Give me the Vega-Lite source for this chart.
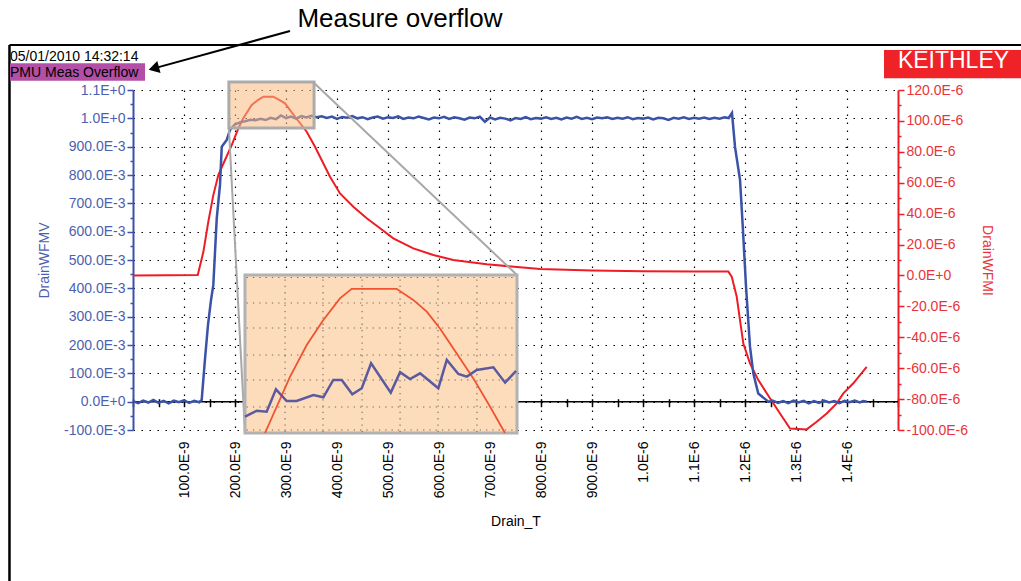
{
  "$schema": "https://vega.github.io/schema/vega-lite/v6.json",
  "width": 765,
  "height": 340,
  "autosize": {"type": "none"},
  "padding": {"left": 133, "top": 90, "right": 123, "bottom": 151},
  "config": {"font": "Liberation Sans", "view": {"stroke": null}},
  "datasets": {
    "voltage": [
      {"t":0,"v":0.002},{"t":10,"v":-0.005},{"t":20,"v":0.004},{"t":30,"v":-0.003},{"t":40,"v":0.006},{"t":50,"v":-0.004},{"t":60,"v":0.003},{"t":70,"v":-0.006},{"t":80,"v":0.004},{"t":90,"v":-0.002},{"t":100,"v":0.005},{"t":110,"v":-0.004},{"t":120,"v":0.003},{"t":130,"v":-0.002},
      {"t":134.7,"v":0.006},{"t":141,"v":0.147},{"t":147,"v":0.27},{"t":153,"v":0.359},{"t":157.5,"v":0.412},{"t":164.2,"v":0.647},{"t":170.6,"v":0.765},{"t":174,"v":0.9},{"t":183.8,"v":0.924},{"t":190.2,"v":0.959},{"t":200,"v":0.979},{"t":213.2,"v":0.988},
      {"t":220,"v":0.99},{"t":230,"v":0.995},{"t":240,"v":0.993},{"t":250,"v":0.998},{"t":260,"v":0.994},{"t":270,"v":1.002},{"t":280,"v":0.997},{"t":290,"v":1.01},{"t":300,"v":1.001},{"t":310,"v":1.006},{"t":320,"v":0.999},{"t":330,"v":1.008},{"t":340,"v":1.003},{"t":350,"v":1.009},{"t":360,"v":1.004},{"t":370,"v":1.007},{"t":380,"v":1.001},{"t":390,"v":1.006},{"t":400,"v":0.998},{"t":410,"v":1.005},{"t":420,"v":1.002},{"t":430,"v":1.008},{"t":440,"v":1.0},{"t":450,"v":1.004},{"t":460,"v":0.997},{"t":470,"v":1.003},{"t":480,"v":1.006},{"t":490,"v":0.999},{"t":500,"v":1.004},{"t":510,"v":1.001},{"t":520,"v":1.007},{"t":530,"v":0.998},{"t":540,"v":1.003},{"t":550,"v":1.0},{"t":560,"v":1.006},{"t":570,"v":1.001},{"t":580,"v":0.996},{"t":590,"v":1.003},{"t":600,"v":1.0},{"t":610,"v":1.005},{"t":620,"v":0.998},{"t":630,"v":1.004},{"t":640,"v":1.0},{"t":650,"v":0.995},{"t":660,"v":1.003},{"t":670,"v":1.0},{"t":680,"v":1.006},{"t":690,"v":0.988},{"t":700,"v":1.003},{"t":710,"v":0.996},{"t":720,"v":1.002},{"t":730,"v":0.999},{"t":740,"v":0.993},{"t":750,"v":1.001},{"t":760,"v":0.998},{"t":770,"v":1.004},{"t":780,"v":0.997},{"t":790,"v":1.001},{"t":800,"v":0.999},{"t":810,"v":1.004},{"t":820,"v":0.998},{"t":830,"v":1.002},{"t":840,"v":0.996},{"t":850,"v":1.003},{"t":860,"v":0.999},{"t":870,"v":1.005},{"t":880,"v":0.998},{"t":890,"v":1.002},{"t":900,"v":0.997},{"t":910,"v":1.003},{"t":920,"v":1.0},{"t":930,"v":1.004},{"t":940,"v":0.998},{"t":950,"v":1.002},{"t":960,"v":0.999},{"t":970,"v":1.004},{"t":980,"v":0.997},{"t":990,"v":1.001},{"t":1000,"v":0.999},{"t":1010,"v":1.003},{"t":1020,"v":0.996},{"t":1030,"v":1.002},{"t":1040,"v":1.0},{"t":1050,"v":0.994},{"t":1060,"v":1.002},{"t":1070,"v":0.999},{"t":1080,"v":1.004},{"t":1090,"v":0.998},{"t":1100,"v":1.002},{"t":1110,"v":0.999},{"t":1120,"v":1.003},{"t":1130,"v":0.998},{"t":1140,"v":1.002},{"t":1150,"v":0.999},{"t":1160,"v":1.004},{"t":1168,"v":1.001},
      {"t":1174.5,"v":1.019},{"t":1180.4,"v":0.899},{"t":1190.3,"v":0.782},{"t":1196,"v":0.606},{"t":1202,"v":0.406},{"t":1209.8,"v":0.194},{"t":1216.3,"v":0.1},{"t":1226,"v":0.029},{"t":1245.7,"v":0.0},
      {"t":1255,"v":0.003},{"t":1265,"v":-0.004},{"t":1275,"v":0.002},{"t":1285,"v":-0.005},{"t":1295,"v":0.004},{"t":1305,"v":-0.003},{"t":1315,"v":0.003},{"t":1325,"v":-0.006},{"t":1335,"v":0.002},{"t":1345,"v":-0.004},{"t":1355,"v":0.004},{"t":1365,"v":-0.003},{"t":1375,"v":0.002},{"t":1385,"v":-0.005},{"t":1395,"v":0.003},{"t":1405,"v":-0.002},{"t":1415,"v":0.004},{"t":1425,"v":-0.003},{"t":1432,"v":0.002},{"t":1439,"v":0.0}
    ],
    "current": [
      {"t":0,"i":0},{"t":127,"i":0.3},{"t":138,"i":15.3},{"t":147.7,"i":34.8},{"t":157.5,"i":52},{"t":167.3,"i":65},{"t":180.4,"i":74.7},{"t":193.6,"i":84.4},{"t":206.5,"i":95.2},{"t":216.3,"i":101.7},{"t":232.7,"i":110.3},{"t":245,"i":113.5},{"t":255.6,"i":115.7},{"t":275.2,"i":115.7},{"t":285,"i":114},{"t":298,"i":111.4},{"t":317.7,"i":102.7},{"t":340.6,"i":93},{"t":356.9,"i":83.3},{"t":366.7,"i":76.8},{"t":386.3,"i":63.9},{"t":405.9,"i":53.1},{"t":432,"i":44.5},{"t":458.3,"i":37},{"t":484.4,"i":30.5},{"t":510.4,"i":24},{"t":549.6,"i":17.5},{"t":588.9,"i":13.2},{"t":628,"i":10},{"t":693.6,"i":7.2},{"t":758.9,"i":5.3},{"t":798,"i":4.2},{"t":900,"i":3.2},{"t":1000,"i":2.8},{"t":1100,"i":2.5},{"t":1167.3,"i":2.5},{"t":1174,"i":-0.8},{"t":1183.8,"i":-13.8},{"t":1190.2,"i":-28.9},{"t":1196.7,"i":-44},{"t":1209.8,"i":-56.9},{"t":1226.1,"i":-67.7},{"t":1249,"i":-79.5},{"t":1268.7,"i":-89.3},{"t":1288.3,"i":-99},{"t":1321,"i":-99.6},{"t":1340.6,"i":-94.7},{"t":1360.2,"i":-89.3},{"t":1379.8,"i":-82.8},{"t":1392.8,"i":-76.3},{"t":1412.4,"i":-69.8},{"t":1438.6,"i":-59.1}
    ],
    "insetV": [
      {"t":188,"v":0.9827},{"t":195.2,"v":0.9889},{"t":201.3,"v":0.9879},{"t":207,"v":1.0108},{"t":213.6,"v":0.9988},{"t":219.7,"v":0.9988},{"t":230,"v":1.005},{"t":236.1,"v":1.0026},{"t":242.2,"v":1.0204},{"t":247.4,"v":1.0204},{"t":253.9,"v":1.0057},{"t":259.7,"v":1.0119},{"t":265.4,"v":1.0375},{"t":277.5,"v":1.0074},{"t":283.2,"v":1.0283},{"t":289.3,"v":1.0214},{"t":295.5,"v":1.0272},{"t":306.7,"v":1.0119},{"t":311.9,"v":1.0409},{"t":319,"v":1.0265},{"t":324.2,"v":1.0238},{"t":330.3,"v":1.0306},{"t":340.5,"v":1.0334},{"t":347.7,"v":1.0176},{"t":354.4,"v":1.0296}
    ],
    "insetI": [
      {"t":200.3,"i":95.4},{"t":215.6,"i":106},{"t":225.9,"i":112},{"t":236.1,"i":116.7},{"t":246.3,"i":120.8},{"t":253.5,"i":122.6},{"t":281.1,"i":122.6},{"t":291.3,"i":120.5},{"t":299.6,"i":118.3},{"t":307.7,"i":115.1},{"t":318,"i":110.4},{"t":328.2,"i":105.7},{"t":338.4,"i":100.4},{"t":347.6,"i":95.4}
    ],
    "insetGridT": [{"g":212.6},{"g":235.9},{"g":259.9},{"g":283.2},{"g":306.5},{"g":330.4}],
    "insetGridV": [{"g":0.969},{"g":0.9927},{"g":1.0204},{"g":1.046},{"g":1.0737},{"g":1.0993},{"g":1.1255}]
  },
  "resolve": {"scale": {"x": "independent", "y": "independent"}, "axis": {"x": "independent", "y": "independent"}},
  "layer": [
    {
      "data": {"values": [{}]},
      "mark": {"type": "rule", "color": "black", "strokeWidth": 1.5},
      "encoding": {
        "y": {"datum": 0, "type": "quantitative", "scale": {"domain": [-0.1, 1.1], "nice": false, "zero": false}, "axis": null}
      }
    },
    {
      "data": {"name": "current"},
      "mark": {"type": "line", "color": "#EE1C25", "strokeWidth": 2},
      "encoding": {
        "x": {"field": "t", "type": "quantitative", "scale": {"domain": [0, 1500], "nice": false, "zero": false},
          "axis": {"orient": "bottom", "values": [0,50,100,150,200,250,300,350,400,450,500,550,600,650,700,750,800,850,900,950,1000,1050,1100,1150,1200,1250,1300,1350,1400,1450,1500],
            "labels": false, "grid": false, "domain": false, "ticks": true, "tickSize": 8, "tickColor": "black", "tickWidth": 1.5, "offset": -31.3, "title": null}},
        "y": {"field": "i", "type": "quantitative", "scale": {"domain": [-100, 120], "nice": false, "zero": false},
          "axis": {"orient": "right", "values": [-100,-90,-80,-70,-60,-50,-40,-30,-20,-10,0,10,20,30,40,50,60,70,80,90,100,110,120],
            "labelExpr": "abs(round(datum.value/10)) % 2 == 1 ? '' : (abs(datum.value) < 1e-9 ? '0.0E+0' : (datum.value < 0 ? '-' : '') + format(abs(datum.value), '.1f') + 'E-6')",
            "labelFontSize": 14, "labelColor": "#E8343A", "labelPadding": 2, "labelOverlap": false,
            "tickColor": "#EE1C25", "tickWidth": 1.5, "tickSize": {"condition": {"test": "abs(round(datum.value/10)) % 2 == 1", "value": 3}, "value": 6},
            "domainColor": "#EE1C25", "domainWidth": 2, "grid": false,
            "title": "DrainWFMI", "titleColor": "#E8343A", "titleFontSize": 14, "titleFontWeight": "normal", "titlePadding": 12}}
      }
    },
    {
      "data": {"name": "voltage"},
      "mark": {"type": "line", "color": "#3A52A8", "strokeWidth": 2.5},
      "encoding": {
        "x": {"field": "t", "type": "quantitative", "scale": {"domain": [0, 1500], "nice": false, "zero": false},
          "axis": {"orient": "bottom", "values": [100,200,300,400,500,600,700,800,900,1000,1100,1200,1300,1400],
            "labelExpr": "datum.value < 950 ? format(datum.value, '.1f') + 'E-9' : format(datum.value/1000, '.1f') + 'E-6'",
            "labelAngle": 270, "labelFontSize": 14, "labelColor": "black", "labelPadding": 11, "labelOverlap": false,
            "ticks": false, "domain": false, "grid": true, "gridColor": "black", "gridDash": [1.5, 6.5], "gridWidth": 1.2,
            "title": "Drain_T", "titleFontSize": 14, "titleFontWeight": "normal", "titleColor": "black", "titlePadding": 17}},
        "y": {"field": "v", "type": "quantitative", "scale": {"domain": [-0.1, 1.1], "nice": false, "zero": false},
          "axis": {"orient": "left", "values": [-0.1,-0.05,0,0.05,0.1,0.15,0.2,0.25,0.3,0.35,0.4,0.45,0.5,0.55,0.6,0.65,0.7,0.75,0.8,0.85,0.9,0.95,1,1.05,1.1],
            "labelExpr": "abs(round(datum.value*20)) % 2 == 1 ? '' : (abs(datum.value) < 1e-9 ? '0.0E+0' : (datum.value > 0.95 ? format(datum.value, '.1f') + 'E+0' : (datum.value < 0 ? '-' : '') + format(abs(datum.value)*1000, '.1f') + 'E-3'))",
            "labelFontSize": 14, "labelColor": "#4D5FB0", "labelPadding": 2, "labelOverlap": false,
            "tickColor": "#3A52A8", "tickWidth": 1.5, "tickSize": {"condition": {"test": "abs(round(datum.value*20)) % 2 == 1", "value": 3}, "value": 6},
            "domainColor": "#3A52A8", "domainWidth": 2,
            "grid": true, "gridColor": "black", "gridDash": [1.5, 6.5], "gridWidth": 1.2,
            "gridOpacity": {"condition": {"test": "abs(round(datum.value*20)) % 2 == 1", "value": 0}, "value": 1},
            "title": "DrainWFMV", "titleColor": "#4D5FB0", "titleFontSize": 14, "titleFontWeight": "normal", "titlePadding": 12}}
      }
    },
    {
      "data": {"values": [{}]},
      "mark": {"type": "rect", "fill": "#FAB97E", "fillOpacity": 0.55, "stroke": "#ABABAB", "strokeWidth": 3},
      "encoding": {
        "x": {"datum": 188, "type": "quantitative", "scale": {"domain": [0, 1500], "nice": false, "zero": false}, "axis": null},
        "x2": {"datum": 355},
        "y": {"datum": 0.966, "type": "quantitative", "scale": {"domain": [-0.1, 1.1], "nice": false, "zero": false}, "axis": null},
        "y2": {"datum": 1.128}
      }
    },
    {
      "data": {"values": [{}]},
      "mark": {"type": "rule", "color": "#A8A8A8", "strokeWidth": 2},
      "encoding": {
        "x": {"datum": 353, "type": "quantitative", "scale": {"domain": [0, 1500], "nice": false, "zero": false}, "axis": null},
        "x2": {"datum": 753},
        "y": {"datum": 1.128, "type": "quantitative", "scale": {"domain": [-0.1, 1.1], "nice": false, "zero": false}, "axis": null},
        "y2": {"datum": 0.447}
      }
    },
    {
      "data": {"values": [{}]},
      "mark": {"type": "rule", "color": "#A8A8A8", "strokeWidth": 2},
      "encoding": {
        "x": {"datum": 188, "type": "quantitative", "scale": {"domain": [0, 1500], "nice": false, "zero": false}, "axis": null},
        "x2": {"datum": 219.6},
        "y": {"datum": 0.966, "type": "quantitative", "scale": {"domain": [-0.1, 1.1], "nice": false, "zero": false}, "axis": null},
        "y2": {"datum": -0.1106}
      }
    },
    {
      "data": {"values": [{}]},
      "mark": {"type": "rect", "fill": "#FDDCBC", "stroke": "#B2B2B2", "strokeWidth": 3},
      "encoding": {
        "x": {"datum": 188, "type": "quantitative", "scale": {"domain": [188, 355], "range": [112, 384], "nice": false, "zero": false}, "axis": null},
        "x2": {"datum": 355},
        "y": {"datum": 0.966, "type": "quantitative", "scale": {"domain": [0.966, 1.128], "range": [343, 185], "nice": false, "zero": false}, "axis": null},
        "y2": {"datum": 1.128}
      }
    },
    {
      "data": {"name": "insetGridT"},
      "mark": {"type": "rule", "color": "#7A6A5A", "strokeWidth": 1.1, "strokeDash": [1.3, 5]},
      "encoding": {
        "x": {"field": "g", "type": "quantitative", "scale": {"domain": [188, 355], "range": [112, 384], "nice": false, "zero": false}, "axis": null},
        "y": {"datum": 0.967, "type": "quantitative", "scale": {"domain": [0.966, 1.128], "range": [343, 185], "nice": false, "zero": false}, "axis": null},
        "y2": {"datum": 1.127}
      }
    },
    {
      "data": {"name": "insetGridV"},
      "mark": {"type": "rule", "color": "#7A6A5A", "strokeWidth": 1.1, "strokeDash": [1.3, 5]},
      "encoding": {
        "y": {"field": "g", "type": "quantitative", "scale": {"domain": [0.966, 1.128], "range": [343, 185], "nice": false, "zero": false}, "axis": null},
        "x": {"datum": 189, "type": "quantitative", "scale": {"domain": [188, 355], "range": [112, 384], "nice": false, "zero": false}, "axis": null},
        "x2": {"datum": 354}
      }
    },
    {
      "data": {"name": "insetI"},
      "mark": {"type": "line", "color": "#F2522E", "strokeWidth": 1.8},
      "encoding": {
        "x": {"field": "t", "type": "quantitative", "scale": {"domain": [188, 355], "range": [112, 384], "nice": false, "zero": false}, "axis": null},
        "y": {"field": "i", "type": "quantitative", "scale": {"domain": [95.4, 125.2], "range": [343, 185], "nice": false, "zero": false}, "axis": null}
      }
    },
    {
      "data": {"name": "insetV"},
      "mark": {"type": "line", "color": "#5C5A9E", "strokeWidth": 2.5},
      "encoding": {
        "x": {"field": "t", "type": "quantitative", "scale": {"domain": [188, 355], "range": [112, 384], "nice": false, "zero": false}, "axis": null},
        "y": {"field": "v", "type": "quantitative", "scale": {"domain": [0.966, 1.128], "range": [343, 185], "nice": false, "zero": false}, "axis": null}
      }
    },
    {
      "data": {"values": [{}]},
      "mark": {"type": "rule", "color": "black", "strokeWidth": 2},
      "encoding": {
        "x": {"datum": -242.2, "type": "quantitative", "scale": {"domain": [0, 1500], "nice": false, "zero": false}, "axis": null},
        "x2": {"datum": 1760},
        "y": {"datum": 1.2588, "type": "quantitative", "scale": {"domain": [-0.1, 1.1], "nice": false, "zero": false}, "axis": null}
      }
    },
    {
      "data": {"values": [{}]},
      "mark": {"type": "rule", "color": "black", "strokeWidth": 2.5},
      "encoding": {
        "x": {"datum": -242.2, "type": "quantitative", "scale": {"domain": [0, 1500], "nice": false, "zero": false}, "axis": null},
        "y": {"datum": 1.2588, "type": "quantitative", "scale": {"domain": [-0.1, 1.1], "nice": false, "zero": false}, "axis": null},
        "y2": {"datum": -0.7}
      }
    },
    {
      "data": {"values": [{}]},
      "mark": {"type": "rect", "fill": "#B34FA6"},
      "encoding": {
        "x": {"datum": -241.2, "type": "quantitative", "scale": {"domain": [0, 1500], "nice": false, "zero": false}, "axis": null},
        "x2": {"datum": 23.5},
        "y": {"datum": 1.1942, "type": "quantitative", "scale": {"domain": [-0.1, 1.1], "nice": false, "zero": false}, "axis": null},
        "y2": {"datum": 1.1328}
      }
    },
    {
      "data": {"values": [{"label": "05/01/2010 14:32:14"}]},
      "mark": {"type": "text", "align": "left", "baseline": "alphabetic", "fontSize": 14, "color": "black"},
      "encoding": {
        "text": {"field": "label"},
        "x": {"datum": -241.2, "type": "quantitative", "scale": {"domain": [0, 1500], "nice": false, "zero": false}, "axis": null},
        "y": {"datum": 1.2024, "type": "quantitative", "scale": {"domain": [-0.1, 1.1], "nice": false, "zero": false}, "axis": null}
      }
    },
    {
      "data": {"values": [{"label": "PMU Meas Overflow"}]},
      "mark": {"type": "text", "align": "left", "baseline": "alphabetic", "fontSize": 14, "color": "black"},
      "encoding": {
        "text": {"field": "label"},
        "x": {"datum": -241.2, "type": "quantitative", "scale": {"domain": [0, 1500], "nice": false, "zero": false}, "axis": null},
        "y": {"datum": 1.1459, "type": "quantitative", "scale": {"domain": [-0.1, 1.1], "nice": false, "zero": false}, "axis": null}
      }
    },
    {
      "data": {"values": [{}]},
      "mark": {"type": "rect", "fill": "#EE2227"},
      "encoding": {
        "x": {"datum": 1472.5, "type": "quantitative", "scale": {"domain": [0, 1500], "nice": false, "zero": false}, "axis": null},
        "x2": {"datum": 1760},
        "y": {"datum": 1.2412, "type": "quantitative", "scale": {"domain": [-0.1, 1.1], "nice": false, "zero": false}, "axis": null},
        "y2": {"datum": 1.1413}
      }
    },
    {
      "data": {"values": [{"label": "KEITHLEY"}]},
      "mark": {"type": "text", "align": "center", "baseline": "alphabetic", "fontSize": 23, "color": "white"},
      "encoding": {
        "text": {"field": "label"},
        "x": {"datum": 1608.8, "type": "quantitative", "scale": {"domain": [0, 1500], "nice": false, "zero": false}, "axis": null},
        "y": {"datum": 1.1766, "type": "quantitative", "scale": {"domain": [-0.1, 1.1], "nice": false, "zero": false}, "axis": null}
      }
    },
    {
      "data": {"values": [{"label": "Measure overflow"}]},
      "mark": {"type": "text", "align": "center", "baseline": "alphabetic", "fontSize": 26, "color": "black"},
      "encoding": {
        "text": {"field": "label"},
        "x": {"datum": 523.5, "type": "quantitative", "scale": {"domain": [0, 1500], "nice": false, "zero": false}, "axis": null},
        "y": {"datum": 1.3224, "type": "quantitative", "scale": {"domain": [-0.1, 1.1], "nice": false, "zero": false}, "axis": null}
      }
    },
    {
      "data": {"values": [{}]},
      "mark": {"type": "rule", "color": "black", "strokeWidth": 2},
      "encoding": {
        "x": {"datum": 307.8, "type": "quantitative", "scale": {"domain": [0, 1500], "nice": false, "zero": false}, "axis": null},
        "x2": {"datum": 41.2},
        "y": {"datum": 1.3082, "type": "quantitative", "scale": {"domain": [-0.1, 1.1], "nice": false, "zero": false}, "axis": null},
        "y2": {"datum": 1.1762}
      }
    },
    {
      "data": {"values": [{}]},
      "mark": {"type": "point", "shape": "triangle-right", "angle": 164.6, "size": 150, "filled": true, "color": "black", "opacity": 1},
      "encoding": {
        "x": {"datum": 40.8, "type": "quantitative", "scale": {"domain": [0, 1500], "nice": false, "zero": false}, "axis": null},
        "y": {"datum": 1.1762, "type": "quantitative", "scale": {"domain": [-0.1, 1.1], "nice": false, "zero": false}, "axis": null}
      }
    }
  ]
}
